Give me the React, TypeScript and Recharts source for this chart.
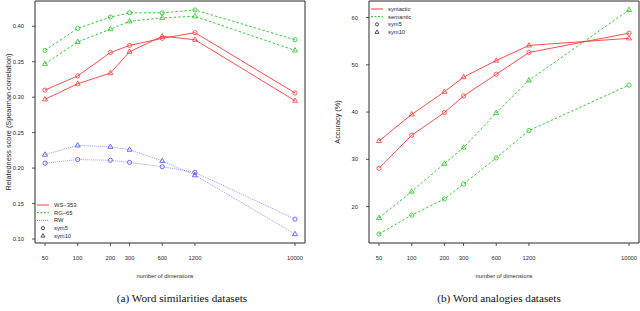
import { LineChart, Line, XAxis, YAxis, ReferenceArea } from "recharts";

const dims = [50, 100, 200, 300, 600, 1200, 10000];

// (a) word similarities
const ws353Sym5 = [0.31, 0.33, 0.363, 0.373, 0.383, 0.391, 0.306];
const ws353Sym10 = [0.297, 0.319, 0.334, 0.364, 0.386, 0.381, 0.295];
const rg65Sym5 = [0.366, 0.397, 0.413, 0.419, 0.419, 0.423, 0.381];
const rg65Sym10 = [0.347, 0.378, 0.396, 0.407, 0.412, 0.414, 0.366];
const rwSym5 = [0.207, 0.212, 0.211, 0.208, 0.202, 0.194, 0.128];
const rwSym10 = [0.219, 0.232, 0.23, 0.226, 0.21, 0.19, 0.107];
const simTicks = [0.1, 0.15, 0.2, 0.25, 0.3, 0.35, 0.4];

// (b) word analogies
const synSym5 = [28.1, 35.1, 39.9, 43.4, 48.0, 52.6, 56.7];
const synSym10 = [33.9, 39.5, 44.3, 47.4, 50.9, 54.1, 55.6];
const semSym5 = [14.2, 18.2, 21.6, 24.8, 30.3, 36.1, 45.7];
const semSym10 = [17.6, 23.2, 29.1, 32.5, 39.8, 46.7, 61.6];
const anaTicks = [20, 30, 40, 50, 60];

const RED = "#ff3a3a";
const GREEN = "#22c322";
const BLUE = "#4a4aff";
const BLUE_LINE = "#7c7cff";
const FONT = "'Liberation Sans', Arial, sans-serif";
const SERIF = "'Liberation Serif', 'DejaVu Serif', serif";
const INK = "#2a2a2a";

const simData = dims.map((d, i) => ({
  dim: d,
  ws5: ws353Sym5[i],
  ws10: ws353Sym10[i],
  rg5: rg65Sym5[i],
  rg10: rg65Sym10[i],
  rw5: rwSym5[i],
  rw10: rwSym10[i],
}));

const anaData = dims.map((d, i) => ({
  dim: d,
  syn5: synSym5[i],
  syn10: synSym10[i],
  sem5: semSym5[i],
  sem10: semSym10[i],
}));

// R style 4% padding on both axes
function padRange(lo: number, hi: number): [number, number] {
  const p = (hi - lo) * 0.04;
  return [lo - p, hi + p];
}
const lx = padRange(Math.log10(dims[0]), Math.log10(dims[dims.length - 1]));
const xDomain: [number, number] = [10 ** lx[0], 10 ** lx[1]];
const simAll = [...ws353Sym5, ...ws353Sym10, ...rg65Sym5, ...rg65Sym10, ...rwSym5, ...rwSym10];
const simDomain = padRange(Math.min(...simAll), Math.max(...simAll));
const anaAll = [...synSym5, ...synSym10, ...semSym5, ...semSym10];
const anaDomain = padRange(Math.min(...anaAll), Math.max(...anaAll));

const circleDot = (color: string) => (p: any) => (
  <circle key={p.key ?? p.index} cx={p.cx} cy={p.cy} r={2.1} fill="none" stroke={color} strokeWidth={0.8} />
);
const triDot = (color: string) => (p: any) => (
  <polygon
    key={p.key ?? p.index}
    points={`${p.cx},${p.cy - 2.8} ${p.cx - 2.5},${p.cy + 1.6} ${p.cx + 2.5},${p.cy + 1.6}`}
    fill="none"
    stroke={color}
    strokeWidth={0.8}
  />
);

const tickStyle = { fontSize: 5.8, fill: INK, fontFamily: FONT };

function series(key: string, color: string, dash: string | undefined, tri: boolean, lineColor = color, width = 0.9) {
  return (
    <Line
      key={key}
      dataKey={key}
      type="linear"
      stroke={lineColor}
      strokeWidth={width}
      strokeDasharray={dash}
      dot={tri ? triDot(color) : circleDot(color)}
      activeDot={false}
      isAnimationActive={false}
    />
  );
}

function LegendBox({ left, top, items }: { left: number; top: number; items: { label: string; kind: string; color?: string; dash?: string }[] }) {
  const row = 7.7;
  return (
    <svg style={{ position: "absolute", left, top }} width={60} height={items.length * row + 2}>
      {items.map((it, i) => {
        const y = i * row + 4;
        return (
          <g key={it.label}>
            {it.kind === "line" && (
              <line x1={0} x2={12} y1={y} y2={y} stroke={it.color} strokeWidth={1} strokeDasharray={it.dash} />
            )}
            {it.kind === "circle" && <circle cx={6} cy={y} r={1.6} fill="none" stroke={INK} strokeWidth={0.8} />}
            {it.kind === "tri" && (
              <polygon points={`6,${y - 2.2} 4,${y + 1.3} 8,${y + 1.3}`} fill="none" stroke={INK} strokeWidth={0.8} />
            )}
            <text x={17} y={y + 2} fontSize={5.8} fill={INK} fontFamily={FONT}>
              {it.label}
            </text>
          </g>
        );
      })}
    </svg>
  );
}

const textAbs = (left: number, top: number, extra: any = {}) => ({
  position: "absolute" as const,
  left,
  top,
  fontFamily: FONT,
  fontSize: 5.8,
  color: INK,
  whiteSpace: "nowrap" as const,
  ...extra,
});

export default function App() {
  return (
    <div style={{ position: "relative", width: 640, height: 311, background: "#fff", overflow: "hidden" }}>
      <style>{`body{margin:0}`}</style>

      <div style={{ position: "absolute", left: 0, top: 0 }}>
        <LineChart width={320} height={311} data={simData} margin={{ top: 1, right: 15, bottom: 38, left: 0 }}>
          <XAxis
            dataKey="dim"
            type="number"
            scale="log"
            domain={xDomain}
            ticks={dims}
            allowDataOverflow
            axisLine={false}
            tickLine={{ stroke: INK, strokeWidth: 0.8 }}
            tickSize={3}
            tickMargin={10}
            height={30}
            tick={tickStyle}
            interval={0}
          />
          <YAxis
            type="number"
            domain={simDomain}
            ticks={simTicks}
            allowDataOverflow
            axisLine={false}
            tickLine={{ stroke: INK, strokeWidth: 0.8 }}
            tickSize={3}
            tickMargin={8}
            width={35}
            tick={tickStyle}
            tickFormatter={(v: number) => v.toFixed(2)}
            interval={0}
          />
          <ReferenceArea x1={xDomain[0]} x2={xDomain[1]} y1={simDomain[0]} y2={simDomain[1]} fill="none" stroke={INK} strokeWidth={1} />
          {series("rw5", BLUE, "1 1", false, BLUE_LINE, 0.8)}
          {series("rw10", BLUE, "1 1", true, BLUE_LINE, 0.8)}
          {series("rg5", GREEN, "2.5 2", false)}
          {series("rg10", GREEN, "2.5 2", true)}
          {series("ws5", RED, undefined, false)}
          {series("ws10", RED, undefined, true)}
        </LineChart>
      </div>

      <div style={{ position: "absolute", left: 320, top: 0 }}>
        <LineChart width={320} height={311} data={anaData} margin={{ top: 1, right: 1, bottom: 38, left: 0 }}>
          <XAxis
            dataKey="dim"
            type="number"
            scale="log"
            domain={xDomain}
            ticks={dims}
            allowDataOverflow
            axisLine={false}
            tickLine={{ stroke: INK, strokeWidth: 0.8 }}
            tickSize={3}
            tickMargin={10}
            height={30}
            tick={tickStyle}
            interval={0}
          />
          <YAxis
            type="number"
            domain={anaDomain}
            ticks={anaTicks}
            allowDataOverflow
            axisLine={false}
            tickLine={{ stroke: INK, strokeWidth: 0.8 }}
            tickSize={3}
            tickMargin={8}
            width={49}
            tick={tickStyle}
            interval={0}
          />
          <ReferenceArea x1={xDomain[0]} x2={xDomain[1]} y1={anaDomain[0]} y2={anaDomain[1]} fill="none" stroke={INK} strokeWidth={1} />
          {series("sem5", GREEN, "2.5 2", false)}
          {series("sem10", GREEN, "2.5 2", true)}
          {series("syn5", RED, undefined, false)}
          {series("syn10", RED, undefined, true)}
        </LineChart>
      </div>

      <LegendBox
        left={37}
        top={201}
        items={[
          { label: "WS\u2212353", kind: "line", color: RED },
          { label: "RG\u221265", kind: "line", color: GREEN, dash: "2 1.5" },
          { label: "RW", kind: "line", color: BLUE_LINE, dash: "1 1" },
          { label: "sym5", kind: "circle" },
          { label: "sym10", kind: "tri" },
        ]}
      />
      <LegendBox
        left={371}
        top={5}
        items={[
          { label: "syntactic", kind: "line", color: RED },
          { label: "semantic", kind: "line", color: GREEN, dash: "2 1.5" },
          { label: "sym5", kind: "circle" },
          { label: "sym10", kind: "tri" },
        ]}
      />

      <div style={textAbs(8, 122, { transform: "translate(-50%, -50%) rotate(-90deg)", fontSize: 7.3 })}>
        Relatedness score (Spearman correlation)
      </div>
      <div style={textAbs(337, 122, { transform: "translate(-50%, -50%) rotate(-90deg)", fontSize: 7.3 })}>
        Accuracy (%)
      </div>
      <div style={textAbs(165, 276, { transform: "translate(-50%, -50%)" })}>number of dimensions</div>
      <div style={textAbs(504, 276, { transform: "translate(-50%, -50%)" })}>number of dimensions</div>

      <div style={textAbs(182, 298, { transform: "translate(-50%, -50%)", fontFamily: SERIF, fontSize: 11.2, color: "#111" })}>
        (a) Word similarities datasets
      </div>
      <div style={textAbs(499, 298, { transform: "translate(-50%, -50%)", fontFamily: SERIF, fontSize: 11.2, color: "#111" })}>
        (b) Word analogies datasets
      </div>
    </div>
  );
}
